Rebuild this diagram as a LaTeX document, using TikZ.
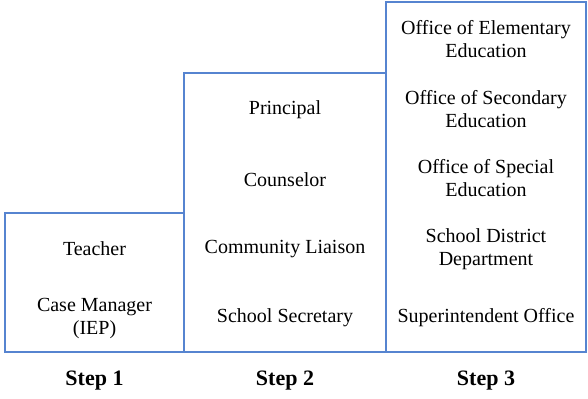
\documentclass[tikz,border=0pt]{standalone}
\usepackage{fontspec}
\setmainfont{Liberation Serif}
\usetikzlibrary{positioning}

\definecolor{stepblue}{RGB}{86,132,208}

\begin{document}
\begin{tikzpicture}[x=0.5pt,y=-0.5pt,
    stepbox/.style={draw=stepblue,line width=1pt},
    role/.style={font=\rmfamily\fontsize{10}{11.5}\selectfont,align=center,inner sep=0},
    steplabel/.style={font=\rmfamily\fontsize{11}{12}\selectfont\bfseries,inner sep=0}
]
\useasboundingbox (0,0) rectangle (588,398);

% the three steps
\draw[stepbox] (5,213) rectangle (184,352);
\draw[stepbox] (184,73) rectangle (386,352);
\draw[stepbox] (386,2) rectangle (586,352);

% step 1
\node[role] (teacher) at (94.5,249) {Teacher};
\node[role] (casemgr) at (94.5,318) {Case Manager\\(IEP)};

% step 2
\node[role] (principal) at (285,110) {Principal};
\node[role] (counselor) at (285,180) {Counselor};
\node[role] (liaison)   at (285,249) {Community Liaison};
\node[role] (secretary) at (285,318) {School Secretary};

% step 3
\node[role] (elementary) at (486,39)  {Office of Elementary\\Education};
\node[role] (secondary)  at (486,109) {Office of Secondary\\Education};
\node[role] (special)    at (486,178) {Office of Special\\Education};
\node[role] (district)   at (486,249) {School District\\Department};
\node[role] (super)      at (486,318) {Superintendent Office};

\node[steplabel] (s1) at (94.5,381) {Step 1};
\node[steplabel] (s2) at (285,381) {Step 2};
\node[steplabel] (s3) at (486,381) {Step 3};

\end{tikzpicture}
\end{document}
